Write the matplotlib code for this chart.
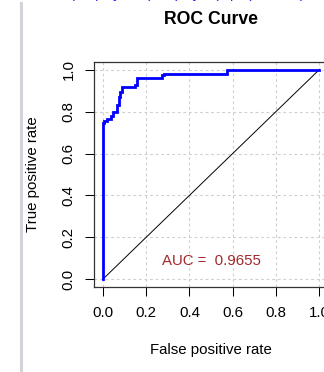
import matplotlib
matplotlib.use("Agg")
import matplotlib.pyplot as plt
from matplotlib.lines import Line2D

# ---- data ----
fpr = [0.0, 0.0, 0.005, 0.017, 0.036, 0.048, 0.063, 0.072, 0.079, 0.089,
       0.097, 0.148, 0.156, 0.168, 0.272, 0.282, 0.318, 0.575, 0.585, 1.0]
tpr = [0.0, 0.713, 0.745, 0.756, 0.766, 0.780, 0.800, 0.832, 0.872, 0.896,
       0.917, 0.917, 0.928, 0.960, 0.960, 0.974, 0.981, 0.981, 1.0, 1.0]
diag_x = [0.0, 1.0]
diag_y = [0.0, 1.0]
ticks = [0.0, 0.2, 0.4, 0.6, 0.8, 1.0]
tick_labels = ["0.0", "0.2", "0.4", "0.6", "0.8", "1.0"]
auc_value = 0.9655
title = "ROC Curve"
xlabel = "False positive rate"
ylabel = "True positive rate"

plt.rcParams['font.family'] = ['Liberation Sans', 'DejaVu Sans']

W, H = 324, 372
fig = plt.figure(figsize=(W / 100, H / 100), dpi=100)
fig.patch.set_facecolor('white')

# axes box in pixels: left 94.4, right 327.6, top 61.6, bottom 287.4
L, R, T, B = 94.4, 327.6, 61.6, 287.4
ax = fig.add_axes([L / W, (H - B) / H, (R - L) / W, (B - T) / H])
ax.set_xlim(-0.04, 1.04)
ax.set_ylim(-0.04, 1.04)

ax.set_xticks(ticks)
ax.set_xticklabels(tick_labels)
ax.set_yticks(ticks)
ax.set_yticklabels(tick_labels)
for lab in ax.get_yticklabels():
    lab.set_rotation(90)
    lab.set_va('center')
ax.tick_params(length=6.5, width=0.75, pad=7, labelsize=10.8, colors='black')

ax.grid(True, color='#cfcfcf', linestyle=(0, (2.5, 2.5)), linewidth=0.8)
ax.set_axisbelow(True)

for s in ax.spines.values():
    s.set_color('#333333')
    s.set_linewidth(0.9)

ax.plot(diag_x, diag_y, color='black', lw=0.7)
ax.plot(fpr, tpr, color='#0000ff', lw=2.0, drawstyle='steps-pre',
        solid_joinstyle='miter')

ax.text(0.5, 0.088, "AUC =  %.4f" % auc_value, transform=ax.transData,
        ha='center', va='center', color='#a3282c', fontsize=10.8)

ax.set_title(title, fontsize=12.7, fontweight='bold', y=(B - 28) / (B - T), va='center')
ax.set_xlabel(xlabel, fontsize=10.8)
ax.xaxis.set_label_coords(0.5, (B - 350) / (B - T))
ax.xaxis.label.set_va('center')
ax.set_ylabel(ylabel, fontsize=10.8)
ax.yaxis.set_label_coords((33 - L) / (R - L), 0.5)
ax.yaxis.label.set_va('center')

# grey vertical rule on the left of the page
fig.add_artist(Line2D([21 / W, 21 / W], [0, 1 - 3 / H], color='#d3d3db', lw=2.2,
                      transform=fig.transFigure))
# cut-off blue text at the top edge
fig.text(70 / W, 1 + 1.5 / H, "(     )   y      (      )   y    )  p  (           (",
         color='#2020ff', fontsize=10.8, va='baseline', ha='left')

fig.savefig("out.png", dpi=100)
